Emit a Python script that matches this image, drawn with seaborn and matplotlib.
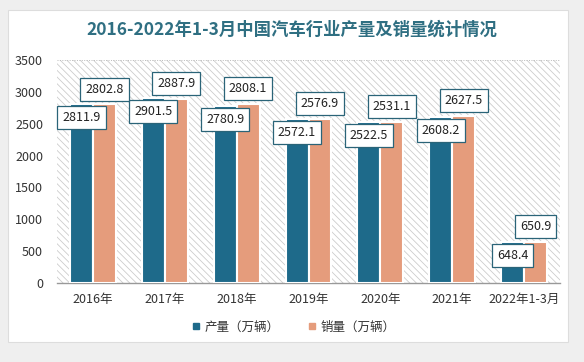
import pandas as pd
import numpy as np
import matplotlib
matplotlib.use('Agg')
import matplotlib.pyplot as plt
from matplotlib.patches import FancyBboxPatch
from matplotlib.lines import Line2D
import seaborn as sns

# -----------------------------------------------------------------------------
years = ['2016年', '2017年', '2018年', '2019年', '2020年', '2021年', '2022年1-3月']
production = [2811.9, 2901.5, 2780.9, 2572.1, 2522.5, 2608.2, 648.4]
sales = [2802.8, 2887.9, 2808.1, 2576.9, 2531.1, 2627.5, 650.9]
series = ['产量（万辆）', '销量（万辆）']
colors = ['#1e6a8a', '#e59c7c']
title = '2016-2022年1-3月中国汽车行业产量及销量统计情况'

# -----------------------------------------------------------------------------
sns.set_theme(style='white')
plt.rcParams['font.family'] = ['Noto Sans CJK SC', 'DejaVu Sans']
plt.rcParams['hatch.color'] = '#cccccc'
plt.rcParams['hatch.linewidth'] = 0.6

df = pd.DataFrame({'year': years * 2,
                   'value': production + sales,
                   'kind': [series[0]] * len(years) + [series[1]] * len(years)})

fig = plt.figure(figsize=(5.84, 3.62), dpi=100)
fig.patch.set_facecolor('#efefef')
card = FancyBboxPatch((8 / 584, 20 / 362), 560 / 584, 332 / 362,
                      boxstyle='square,pad=0', transform=fig.transFigure,
                      facecolor='white', edgecolor='#dddddd', linewidth=0.8,
                      zorder=-5)
fig.patches.append(card)

ax = fig.add_axes([57 / 584, 1 - 283 / 362, 503 / 584, 223 / 362])
ax.set_zorder(2)
ax.patch.set_facecolor('white')
ax.patch.set_hatch('\\\\\\\\\\')
ax.patch.set_edgecolor('#cccccc')
ax.patch.set_linewidth(0)

sns.barplot(data=df, x='year', y='value', hue='kind', palette=colors,
            saturation=1, width=0.64, edgecolor='white', linewidth=1.5,
            ax=ax, legend=True, zorder=3)

ax.set_ylim(0, 3500)
ax.set_xlim(-0.5, len(years) - 0.5)
ax.set_yticks(np.arange(0, 3501, 500))
ax.tick_params(axis='y', labelsize=9, colors='#333333', length=0, pad=10)
ax.tick_params(axis='x', labelsize=9, colors='#333333', length=0, pad=7)
ax.set_xlabel('')
ax.set_ylabel('')
for side in ['top', 'right', 'left']:
    ax.spines[side].set_visible(False)
ax.spines['bottom'].set_color('#999999')
ax.spines['bottom'].set_linewidth(1)
ax.axhline(3500, color='#bbbbbb', linestyle=(0, (1, 1.5)), linewidth=0.7)

# value labels in boxes
box = dict(boxstyle='square,pad=0.4', facecolor='white',
           edgecolor='#2a6478', linewidth=0.9)
bars_p, bars_s = ax.containers[0], ax.containers[1]
for bar, val in zip(bars_p, production):
    cx = bar.get_x() + bar.get_width() / 2
    ax.text(cx, val - 210, '%.1f' % val, ha='center', va='center',
            fontsize=9, color='#222222', bbox=box, zorder=5)
for bar, val in zip(bars_s, sales):
    cx = bar.get_x() + bar.get_width() / 2
    ax.text(cx, val + 240, '%.1f' % val, ha='center', va='center',
            fontsize=9, color='#222222', bbox=box, zorder=5)

ax.get_legend().remove()
handles = [Line2D([], [], marker='s', linestyle='', color=c, markersize=5)
           for c in colors]
fig.legend(handles, series, loc='center', bbox_to_anchor=(0.5, 1 - 327 / 362),
           ncol=2, frameon=False, fontsize=9, handletextpad=0.1,
           handlelength=1.2, columnspacing=2, labelcolor='#333333')

fig.text(0.5, 1 - 30 / 362, title, ha='center', va='center', fontsize=12.5,
         fontweight='bold', color='#2f6f82')

fig.savefig('out.png', dpi=100, facecolor=fig.get_facecolor())
